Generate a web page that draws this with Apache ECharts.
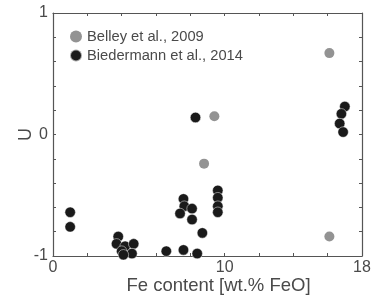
<!DOCTYPE html>
<html>
<head>
<meta charset="utf-8">
<script src="https://cdn.jsdelivr.net/npm/echarts@6/dist/echarts.min.js"></script>
<style>
  html, body { margin: 0; padding: 0; background: #fff; }
  #chart { width: 375px; height: 298px; }
</style>
</head>
<body>
<div id="chart"></div>
<script>
// Fe content [wt.% FeO] vs U
var belleyFe = [9.4, 8.8, 16.1, 16.1];
var belleyU  = [0.15, -0.24, 0.67, -0.84];

var biedFe = [1.0, 1.0, 3.8, 3.7, 4.2, 4.7, 4.0, 4.6, 4.1,
              6.6, 7.6, 8.4, 8.7, 7.6, 7.65, 8.1, 7.4, 8.1,
              8.3, 9.6, 9.6, 9.6, 9.6,
              17.0, 16.8, 16.7, 16.9];
var biedU  = [-0.64, -0.76, -0.84, -0.90, -0.92, -0.90, -0.96, -0.98, -0.99,
              -0.96, -0.95, -0.98, -0.81, -0.53, -0.59, -0.61, -0.65, -0.70,
              0.14, -0.46, -0.52, -0.59, -0.64,
              0.23, 0.17, 0.09, 0.02];

var xLabels = [0, 10, 18];
var yLabels = [-1, 0, 1];

function pairs(xs, ys) {
  return xs.map(function (x, i) { return [x, ys[i]]; });
}

var axisColor = '#555';
var textColor = '#4a4a4a';
var font = 'Liberation Sans, Arial, sans-serif';

var myChart = echarts.init(document.getElementById('chart'));
var option = {
  animation: false,
  grid: { left: 53, right: 13, top: 13, bottom: 42, outerBoundsMode: 'none' },
  legend: {
    left: 64,
    top: 24,
    orient: 'vertical',
    icon: 'circle',
    itemWidth: 12,
    itemHeight: 12,
    itemGap: 4,
    textStyle: { color: textColor, fontSize: 14.7, fontFamily: font },
    data: ['Belley et al., 2009', 'Biedermann et al., 2014']
  },
  xAxis: [{
    type: 'value',
    min: 0, max: 18, interval: 2,
    name: 'Fe content [wt.% FeO]',
    nameLocation: 'middle',
    nameGap: 20,
    nameMoveOverlap: false,
    nameTextStyle: { color: textColor, fontSize: 18.5, fontFamily: font, padding: [0, 0, 0, 22] },
    axisLine: { onZero: false, lineStyle: { color: axisColor, width: 1.2 } },
    axisTick: { inside: true, length: 3, lineStyle: { color: axisColor } },
    axisLabel: {
      color: textColor, fontSize: 16, fontFamily: font, margin: 4,
      formatter: function (v) { return xLabels.indexOf(v) >= 0 ? String(v) : ''; }
    },
    splitLine: { show: false }
  }, {
    type: 'value', position: 'top',
    min: 0, max: 18, interval: 2,
    axisLine: { onZero: false, lineStyle: { color: axisColor, width: 1.2 } },
    axisTick: { inside: true, length: 3, lineStyle: { color: axisColor } },
    axisLabel: { show: false },
    splitLine: { show: false }
  }],
  yAxis: [{
    type: 'value',
    min: -1, max: 1, interval: 0.2,
    name: 'U',
    nameLocation: 'middle',
    nameGap: 18,
    nameMoveOverlap: false,
    nameTextStyle: { color: textColor, fontSize: 18, fontFamily: font },
    axisLine: { onZero: false, lineStyle: { color: axisColor, width: 1.2 } },
    axisTick: { inside: true, length: 3, lineStyle: { color: axisColor } },
    axisLabel: {
      color: textColor, fontSize: 16, fontFamily: font, margin: 5,
      formatter: function (v) {
        var r = Math.round(v * 10) / 10;
        return yLabels.indexOf(r) >= 0 ? String(r) : '';
      }
    },
    splitLine: { show: false }
  }, {
    type: 'value', position: 'right',
    min: -1, max: 1, interval: 0.2,
    axisLine: { onZero: false, lineStyle: { color: axisColor, width: 1.2 } },
    axisTick: { inside: true, length: 3, lineStyle: { color: axisColor } },
    axisLabel: { show: false },
    splitLine: { show: false }
  }],
  series: [{
    name: 'Belley et al., 2009',
    type: 'scatter',
    symbolSize: 10,
    itemStyle: { color: '#939393', opacity: 1 },
    data: pairs(belleyFe, belleyU)
  }, {
    name: 'Biedermann et al., 2014',
    type: 'scatter',
    symbolSize: 10.5,
    itemStyle: { color: '#1a1a1a', opacity: 1, borderColor: 'rgba(255,255,255,0.6)', borderWidth: 0.8 },
    data: pairs(biedFe, biedU)
  }]
};
myChart.setOption(option);
</script>
</body>
</html>
